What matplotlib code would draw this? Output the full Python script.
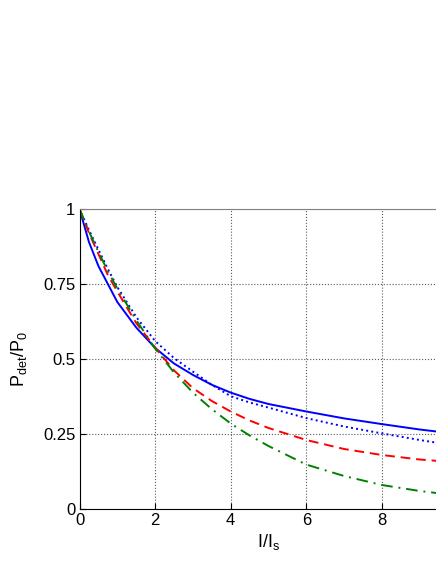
import matplotlib
matplotlib.use("Agg")
import matplotlib.pyplot as plt

plt.rcParams['font.family'] = ['Liberation Sans', 'DejaVu Sans']
plt.rcParams['mathtext.fontset'] = 'custom'
plt.rcParams['mathtext.rm'] = 'Liberation Sans'
plt.rcParams['mathtext.it'] = 'Liberation Sans'
plt.rcParams['mathtext.default'] = 'regular'

# I/I_s sample points
x = [0, 0.25, 0.5, 0.75, 1, 1.5, 2, 2.5, 3, 3.5, 4, 4.5, 5, 6, 7, 8, 9, 10]

# P_det/P_0 curves
solid_blue = [1.0, 0.89, 0.81, 0.75, 0.69, 0.605, 0.537, 0.485, 0.447, 0.414,
              0.388, 0.367, 0.35, 0.325, 0.302, 0.283, 0.265, 0.25]
dotted_blue = [1.0, 0.93, 0.865, 0.80, 0.74, 0.64, 0.56, 0.503, 0.458, 0.414,
               0.376, 0.355, 0.338, 0.303, 0.275, 0.252, 0.23, 0.21]
dashed_red = [1.0, 0.92, 0.85, 0.78, 0.725, 0.62, 0.538, 0.462, 0.403, 0.36,
              0.325, 0.295, 0.27, 0.23, 0.20, 0.18, 0.165, 0.155]
dashdot_green = [1.0, 0.925, 0.857, 0.793, 0.735, 0.63, 0.535, 0.455, 0.388,
                 0.333, 0.285, 0.245, 0.21, 0.148, 0.11, 0.08, 0.06, 0.045]

xticks = [0, 2, 4, 6, 8]
yticks = [0, 0.25, 0.5, 0.75, 1]
yticklabels = ['0', '0.25', '0.5', '0.75', '1']

fig = plt.figure(figsize=(4.36, 5.64), dpi=100)
# axes run past the right edge of the figure, as in the original
ax = fig.add_axes([79.5 / 436, 55 / 564, 378 / 436, 300 / 564])

ax.plot(x, solid_blue, color=(0, 0, 1), lw=1.4, ls='-')
ax.plot(x, dotted_blue, color=(0, 0, 1), lw=1.4, ls=':')
ax.plot(x, dashed_red, color=(1, 0, 0), lw=1.4, ls=(0, (5, 3)))
ax.plot(x, dashdot_green, color=(0, 0.5, 0), lw=1.4, ls=(0, (6, 3, 1, 3)))

ax.set_xlim(0, 10)
ax.set_ylim(0, 1)
ax.set_xticks(xticks)
ax.set_yticks(yticks)
ax.set_yticklabels(yticklabels)
ax.tick_params(direction='in', length=4, labelsize=12, pad=3)
ax.grid(True, ls=':', color='0.35', lw=0.8)

ax.spines['top'].set_color('0.5')
ax.spines['right'].set_visible(False)

ax.set_xlabel(r'$I/I_s$', fontsize=13, labelpad=3)
ax.set_ylabel(r'$P_{det}/P_0$', fontsize=13, labelpad=10)

fig.savefig('out.png', dpi=100)
